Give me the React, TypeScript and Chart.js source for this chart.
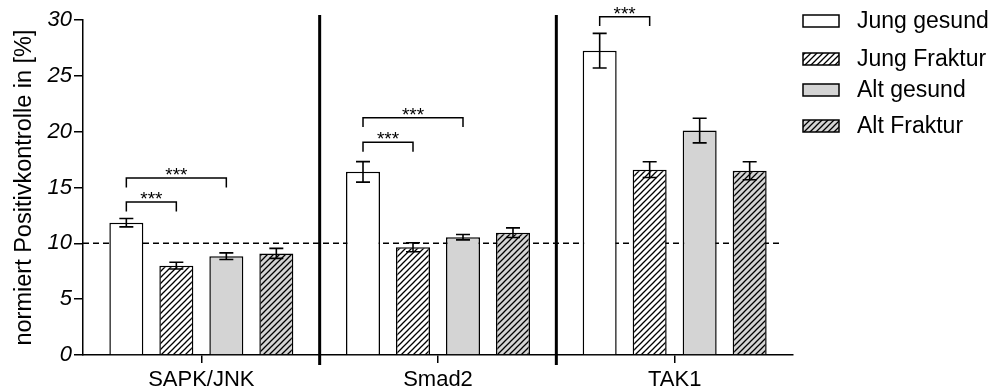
import React, { useEffect, useRef } from 'react';
import { Chart, registerables } from 'chart.js';

Chart.register(...registerables);

// ---------- data ----------
const categories = ['SAPK/JNK', 'Smad2', 'TAK1'];
const seriesNames = ['Jung gesund', 'Jung Fraktur', 'Alt gesund', 'Alt Fraktur'];

const jungGesund = [11.85, 16.4, 27.25];
const jungFraktur = [8.0, 9.65, 16.6];
const altGesund = [8.85, 10.55, 20.1];
const altFraktur = [9.1, 10.95, 16.5];

const jungGesundErr = [0.38, 0.92, 1.55];
const jungFrakturErr = [0.3, 0.4, 0.7];
const altGesundErr = [0.3, 0.24, 1.1];
const altFrakturErr = [0.45, 0.43, 0.8];

const yTicks = [0, 5, 10, 15, 20, 25, 30];
const referenceLevel = 10;

// significance brackets: category index, from series, to series, top value
const bracketCategory = [0, 0, 1, 1, 2];
const bracketFrom = [0, 0, 0, 0, 0];
const bracketTo = [1, 2, 1, 2, 1];
const bracketTop = [13.7, 15.85, 19.05, 21.25, 30.3];
const bracketLabel = ['***', '***', '***', '***', '***'];

const yTitle = 'normiert Positivkontrolle in [%]';

// ---------- styling ----------
const FONT = "'Liberation Sans', Arial, Helvetica, sans-serif";
const GREY = '#d4d4d4';

function makeHatch(bg: string): CanvasPattern | string {
  const s = 6;
  const c = document.createElement('canvas');
  c.width = s;
  c.height = s;
  const g = c.getContext('2d');
  if (!g) return bg;
  g.fillStyle = bg;
  g.fillRect(0, 0, s, s);
  g.strokeStyle = '#000';
  g.lineWidth = 1.3;
  g.beginPath();
  g.moveTo(-1, s + 1);
  g.lineTo(s + 1, -1);
  g.moveTo(-1, 1);
  g.lineTo(1, -1);
  g.moveTo(s - 1, s + 1);
  g.lineTo(s + 1, s - 1);
  g.stroke();
  return g.createPattern(c, 'repeat') || bg;
}

export default function App() {
  const ref = useRef<HTMLCanvasElement | null>(null);

  useEffect(() => {
    const canvas = ref.current;
    if (!canvas) return;

    const fills = [
      '#ffffff',
      makeHatch('#ffffff'),
      GREY,
      makeHatch(GREY),
    ];
    const values = [jungGesund, jungFraktur, altGesund, altFraktur];
    const errs = [jungGesundErr, jungFrakturErr, altGesundErr, altFrakturErr];

    const overlay = {
      id: 'overlay',
      beforeDatasetsDraw(chart: any) {
        const { ctx, chartArea } = chart;
        const x = chart.scales.x;
        const y = chart.scales.y;
        ctx.save();
        // reference dashed line
        const yr = y.getPixelForValue(referenceLevel);
        ctx.strokeStyle = '#000';
        ctx.lineWidth = 1.5;
        ctx.setLineDash([6, 4]);
        ctx.beginPath();
        ctx.moveTo(chartArea.left, yr);
        ctx.lineTo(chartArea.right - 10, yr);
        ctx.stroke();
        ctx.setLineDash([]);
        // separators
        ctx.lineWidth = 3;
        for (let i = 0; i < categories.length - 1; i++) {
          const bx = (x.getPixelForValue(i) + x.getPixelForValue(i + 1)) / 2;
          ctx.beginPath();
          ctx.moveTo(bx, chartArea.top - 5);
          ctx.lineTo(bx, chartArea.bottom + 10);
          ctx.stroke();
        }
        ctx.restore();
      },
      afterDatasetsDraw(chart: any) {
        const { ctx } = chart;
        const y = chart.scales.y;
        ctx.save();
        ctx.strokeStyle = '#000';
        ctx.lineWidth = 1.6;
        // error bars
        chart.data.datasets.forEach((ds: any, di: number) => {
          const meta = chart.getDatasetMeta(di);
          meta.data.forEach((bar: any, i: number) => {
            const v = values[di][i];
            const e = errs[di][i];
            const t = y.getPixelForValue(v + e);
            const b = y.getPixelForValue(v - e);
            const cx = bar.x;
            ctx.beginPath();
            ctx.moveTo(cx, t);
            ctx.lineTo(cx, b);
            ctx.moveTo(cx - 7, t);
            ctx.lineTo(cx + 7, t);
            ctx.moveTo(cx - 7, b);
            ctx.lineTo(cx + 7, b);
            ctx.stroke();
          });
        });
        // significance brackets
        ctx.lineWidth = 1.5;
        ctx.fillStyle = '#000';
        ctx.font = `19px ${FONT}`;
        ctx.textAlign = 'center';
        ctx.textBaseline = 'alphabetic';
        for (let k = 0; k < bracketCategory.length; k++) {
          const c = bracketCategory[k];
          const x1 = chart.getDatasetMeta(bracketFrom[k]).data[c].x;
          const x2 = chart.getDatasetMeta(bracketTo[k]).data[c].x;
          const yt = y.getPixelForValue(bracketTop[k]);
          const yl = y.getPixelForValue(bracketTop[k] - 0.84);
          ctx.beginPath();
          ctx.moveTo(x1, yl);
          ctx.lineTo(x1, yt);
          ctx.lineTo(x2, yt);
          ctx.lineTo(x2, yl);
          ctx.stroke();
          ctx.fillText(bracketLabel[k], (x1 + x2) / 2, yt + 3);
        }
        ctx.restore();
      },
      afterDraw(chart: any) {
        const { ctx } = chart;
        ctx.save();
        const rowY = [21, 59, 90, 126];
        ctx.font = `23px ${FONT}`;
        ctx.textAlign = 'left';
        ctx.textBaseline = 'middle';
        for (let i = 0; i < seriesNames.length; i++) {
          const cy = rowY[i];
          ctx.fillStyle = fills[i] as any;
          ctx.fillRect(803, cy - 6, 36, 12);
          ctx.strokeStyle = '#000';
          ctx.lineWidth = 1.5;
          ctx.strokeRect(803, cy - 6, 36, 12);
          ctx.fillStyle = '#000';
          ctx.fillText(seriesNames[i], 857, cy + 1);
        }
        ctx.restore();
      },
    };

    const chart = new Chart(canvas, {
      type: 'bar',
      data: {
        labels: categories,
        datasets: seriesNames.map((name, i) => ({
          label: name,
          data: values[i],
          backgroundColor: fills[i] as any,
          borderColor: '#000',
          borderWidth: 1.5,
          categoryPercentage: 0.845,
          barPercentage: 0.68,
        })),
      },
      options: {
        responsive: false,
        animation: false,
        devicePixelRatio: 1,
        layout: { padding: { left: 0, right: 199, top: 20, bottom: 0 } },
        plugins: {
          legend: { display: false },
          tooltip: { enabled: false },
        },
        scales: {
          x: {
            offset: true,
            grid: {
              offset: false,
              drawOnChartArea: false,
              drawTicks: true,
              tickLength: 8,
              color: '#000',
              lineWidth: 1.5,
            },
            border: { display: true, color: '#000', width: 1.5 },
            ticks: {
              color: '#000',
              font: { family: FONT, size: 22 },
              padding: 4,
              maxRotation: 0,
            },
            afterFit(scale: any) {
              scale.height = 37;
            },
          },
          y: {
            min: 0,
            max: 30,
            afterBuildTicks(scale: any) {
              scale.ticks = yTicks.map((v) => ({ value: v }));
            },
            grid: {
              drawOnChartArea: false,
              drawTicks: true,
              tickLength: 9,
              color: '#000',
              lineWidth: 1.5,
            },
            border: { display: true, color: '#000', width: 1.5 },
            ticks: {
              color: '#000',
              font: { family: FONT, size: 22, style: 'italic' },
              padding: 2,
            },
            title: {
              display: true,
              text: yTitle,
              color: '#000',
              font: { family: FONT, size: 23.5 },
              padding: { top: 10, bottom: 0 },
            },
            afterFit(scale: any) {
              scale.width = 83;
            },
          },
        },
      },
      plugins: [overlay],
    });

    return () => chart.destroy();
  }, []);

  return (
    <canvas
      ref={ref}
      width={992}
      height={392}
      style={{ position: 'fixed', left: 0, top: 0, width: 992, height: 392, display: 'block' }}
    />
  );
}
